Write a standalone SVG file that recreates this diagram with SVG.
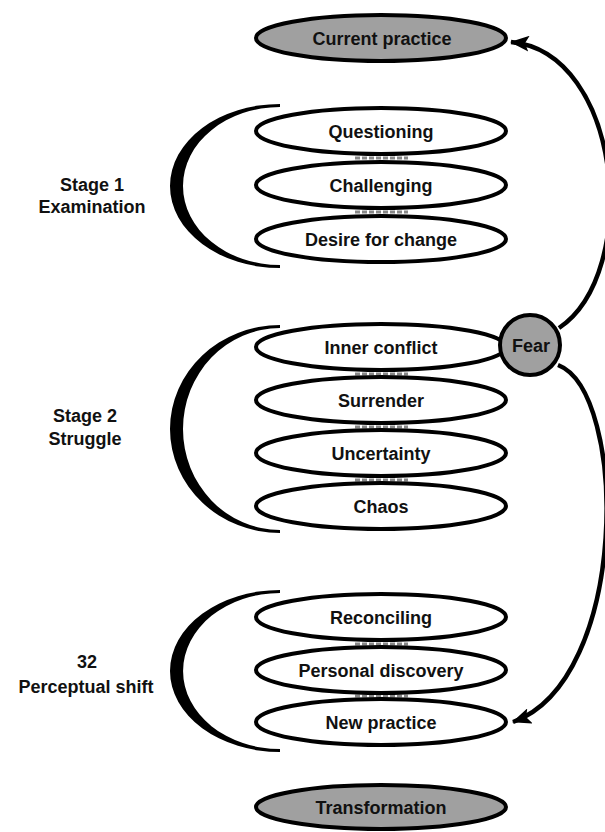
<svg xmlns="http://www.w3.org/2000/svg" width="605" height="832" viewBox="0 0 605 832">
<style>
.e{fill:#fff;stroke:#000;stroke-width:4}
.g{fill:#a0a0a0;stroke:#000;stroke-width:4}
.t{font-family:"Liberation Sans",Arial,sans-serif;font-size:18px;font-weight:bold;fill:#111;text-anchor:middle}
.br{fill:#000;stroke:none}
.lk{stroke:#888;stroke-width:3;stroke-dasharray:5 2}
.c{fill:none;stroke:#000;stroke-width:4.5}
</style>
<defs>
<marker id="ah" markerUnits="userSpaceOnUse" markerWidth="20" markerHeight="16" refX="18" refY="8" orient="auto">
<path d="M0,0 L19,8 L0,16 L4,8 Z" fill="#000"/>
</marker>
</defs>
<rect width="605" height="832" fill="#fff"/>

<g id="brackets">
<path class="br" d="M280,104 A110,82 0 0 0 280,268 L280,265 A97,79 0 0 1 280,107 Z"/>
<path class="br" d="M280,325 A110,104 0 0 0 280,533 L280,530 A97,101 0 0 1 280,328 Z"/>
<path class="br" d="M280,590 A110,81 0 0 0 280,752 L280,749 A97,78 0 0 1 280,593 Z"/>
</g>

<g id="stage-labels">
<text class="t" x="92" y="191">Stage 1</text>
<text class="t" x="92" y="213">Examination</text>
<text class="t" x="85" y="422">Stage 2</text>
<text class="t" x="85" y="445">Struggle</text>
<text class="t" x="87" y="668">32</text>
<text class="t" x="86" y="693">Perceptual shift</text>
</g>

<g id="links">
<line class="lk" x1="355" y1="158" x2="408" y2="158"/>
<line class="lk" x1="355" y1="212" x2="408" y2="212"/>
<line class="lk" x1="355" y1="374" x2="408" y2="374"/>
<line class="lk" x1="355" y1="427" x2="408" y2="427"/>
<line class="lk" x1="355" y1="480" x2="408" y2="480"/>
<line class="lk" x1="355" y1="644" x2="408" y2="644"/>
<line class="lk" x1="355" y1="696" x2="408" y2="696"/>
</g>

<g id="current-practice"><ellipse class="g" cx="381" cy="38" rx="125" ry="23"/><text class="t" x="382" y="45">Current practice</text></g>
<g id="questioning"><ellipse class="e" cx="381" cy="131" rx="125" ry="23"/><text class="t" x="381" y="138">Questioning</text></g>
<g id="challenging"><ellipse class="e" cx="381" cy="185" rx="125" ry="23"/><text class="t" x="381" y="192">Challenging</text></g>
<g id="desire-for-change"><ellipse class="e" cx="381" cy="239" rx="125" ry="23"/><text class="t" x="381" y="246">Desire for change</text></g>
<g id="inner-conflict"><ellipse class="e" cx="381" cy="347" rx="125" ry="23"/><text class="t" x="381" y="354">Inner conflict</text></g>
<g id="surrender"><ellipse class="e" cx="381" cy="400" rx="125" ry="23"/><text class="t" x="381" y="407">Surrender</text></g>
<g id="uncertainty"><ellipse class="e" cx="381" cy="453" rx="125" ry="23"/><text class="t" x="381" y="460">Uncertainty</text></g>
<g id="chaos"><ellipse class="e" cx="381" cy="506" rx="125" ry="23"/><text class="t" x="381" y="513">Chaos</text></g>
<g id="reconciling"><ellipse class="e" cx="381" cy="617" rx="125" ry="23"/><text class="t" x="381" y="624">Reconciling</text></g>
<g id="personal-discovery"><ellipse class="e" cx="381" cy="670" rx="125" ry="23"/><text class="t" x="381" y="677">Personal discovery</text></g>
<g id="new-practice"><ellipse class="e" cx="381" cy="722" rx="125" ry="23"/><text class="t" x="381" y="729">New practice</text></g>
<g id="transformation"><ellipse class="g" cx="381" cy="807" rx="125" ry="22"/><text class="t" x="381" y="814">Transformation</text></g>

<g id="connectors">
<path class="c" d="M559,328 C642,272 622,52 511,42" marker-end="url(#ah)"/>
<path class="c" d="M558,365 C628,392 630,680 513,722" marker-end="url(#ah)"/>
</g>

<g id="fear"><circle class="g" cx="530" cy="345" r="30"/><text class="t" x="531" y="352">Fear</text></g>
</svg>
